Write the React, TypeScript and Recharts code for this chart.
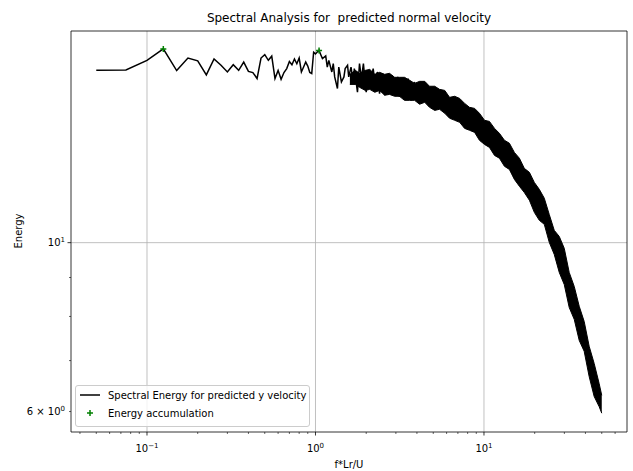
import { ComposedChart, Line, Area, Scatter, XAxis, YAxis, CartesianGrid, ReferenceArea } from 'recharts';

const FONT = '"DejaVu Sans", sans-serif';

// spectrum, resolved part (f*Lr/U, energy)
const lineFreq = [
  0.05, 0.075, 0.1, 0.125, 0.15, 0.175, 0.2, 0.225, 0.25, 0.275, 0.3, 0.325, 0.35, 0.375, 0.4,
  0.425, 0.45, 0.475, 0.5, 0.525, 0.55, 0.575, 0.6, 0.625, 0.65, 0.675, 0.7, 0.725, 0.75, 0.775,
  0.8, 0.825, 0.85, 0.875, 0.9, 0.925, 0.95, 0.975, 1.0, 1.025, 1.05, 1.075, 1.1, 1.15, 1.175,
  1.2, 1.25, 1.275, 1.3, 1.35, 1.375, 1.425, 1.475, 1.5, 1.55, 1.575, 1.625, 1.675, 1.7, 1.775,
  1.825, 1.875, 1.925, 1.95, 2.0, 2.05, 2.1, 2.2, 2.275, 2.325, 2.4, 2.475, 2.575, 2.675, 2.75,
  2.85, 2.95, 3.075, 3.15, 3.275, 3.375, 3.55, 3.7, 3.875,
];
const lineEnergy = [
  16.85, 16.86, 17.36, 17.97, 16.83, 17.48, 17.33, 16.61, 17.43, 17.1, 16.76, 17.13, 16.84, 17.27, 16.79,
  16.73, 16.43, 17.48, 17.66, 17.36, 17.58, 16.43, 16.84, 16.39, 16.73, 16.93, 17.3, 17.13, 17.43, 17.18,
  17.48, 16.76, 17.01, 17.27, 17.06, 16.73, 16.68, 17.79, 17.7, 17.8, 17.89, 17.66, 17.45, 17.59, 17.01,
  17.36, 16.76, 17.19, 16.51, 15.94, 17.01, 16.26, 16.51, 16.93, 17.1, 16.51, 17.01, 16.26, 16.93, 15.77,
  17.19, 16.43, 17.19, 16.68, 15.77, 16.59, 16.09, 16.93, 15.94, 16.76, 15.7, 16.68, 15.62, 16.51, 15.77,
  16.59, 15.62, 16.51, 15.54, 16.43, 15.46, 16.43, 15.38, 16.26,
];

// dense high-frequency part: low / high edge of the band the oscillating line fills
const bandFreq = [
  1.6, 1.725, 1.825, 1.975, 2.1, 2.25, 2.4, 2.575, 2.75, 2.95, 3.15, 3.375, 3.625, 3.875, 4.15,
  4.45, 4.75, 5.1, 5.45, 5.85, 6.25, 6.7, 7.175, 7.675, 8.2, 8.8, 9.4, 10.075, 10.775, 11.55,
  12.35, 13.225, 14.15, 15.15, 16.225, 17.35, 18.6, 19.9, 21.3, 22.8, 24.4, 26.125, 27.975, 29.95, 32.05,
  34.325, 36.75, 39.325, 42.1, 45.075, 48.25, 50,
];
const bandLow = [
  16.14, 16.14, 16.0, 15.85, 15.9, 15.76, 15.85, 15.62, 15.66, 15.57, 15.57, 15.38, 15.38, 15.38, 15.2,
  15.29, 15.06, 14.92, 14.97, 14.79, 14.57, 14.48, 14.39, 14.13, 14.05, 13.96, 13.63, 13.46, 13.34, 13.02,
  12.91, 12.6, 12.48, 12.11, 11.86, 11.64, 11.37, 10.96, 10.7, 10.57, 10.01, 9.65, 9.14, 8.81, 8.22,
  7.93, 7.44, 7.2, 6.67, 6.28, 6.09, 5.97,
];
const bandHigh = [
  16.64, 16.84, 16.69, 16.84, 16.89, 16.64, 16.74, 16.64, 16.69, 16.49, 16.49, 16.49, 16.34, 16.19, 16.29,
  16.29, 16.05, 16.05, 15.9, 15.85, 15.52, 15.57, 15.47, 15.24, 15.06, 15.01, 14.79, 14.48, 14.43, 14.13,
  13.92, 13.63, 13.51, 13.14, 12.91, 12.52, 12.37, 12.0, 11.75, 11.44, 10.89, 10.38, 10.19, 9.83, 9.14,
  8.76, 8.25, 7.88, 7.31, 6.94, 6.53, 6.3,
];

const accumFreq = [0.125, 1.05];
const accumEnergy = [17.97, 17.89];

const xTicks = [
  0.04, 0.05, 0.06, 0.07, 0.08, 0.09, 0.1, 0.2, 0.3, 0.4, 0.5, 0.6, 0.7, 0.8, 0.9,
  1, 2, 3, 4, 5, 6, 7, 8, 9, 10, 20, 30, 40, 50, 60,
];
const xTickExp: Record<string, string> = { '0.1': '−1', '1': '0', '10': '1' };
const yTicks = [6, 7, 8, 9, 10];
const yTickLabel: Record<string, [string, string]> = { '6': ['6 × 10', '0'], '10': ['10', '1'] };

const xDomain = [0.0354, 70.6];
const yDomain = [5.64, 18.97];

const lineData = lineFreq.map((f, i) => ({ f, e: lineEnergy[i] }));
const bandData = bandFreq.map((f, i) => ({ f, range: [bandLow[i], bandHigh[i]] }));
const accumData = accumFreq.map((f, i) => ({ f, e: accumEnergy[i] }));

const XTick = ({ x, y, payload }: any) => {
  const exp = xTickExp[String(payload.value)];
  const major = exp !== undefined;
  return (
    <g>
      <line x1={x} x2={x} y1={y} y2={y + (major ? 3.5 : 2)} stroke="#000" strokeWidth={major ? 0.8 : 0.6} />
      {major && (
        <text x={x} y={y + 20} textAnchor="middle" fontSize={10} fontFamily={FONT} fill="#000">
          10<tspan dy={-4.5} fontSize={7}>{exp}</tspan>
        </text>
      )}
    </g>
  );
};

const YTick = ({ x, y, payload }: any) => {
  const label = yTickLabel[String(payload.value)];
  const major = payload.value === 10;
  return (
    <g>
      <line x1={x - (major ? 3.5 : 2)} x2={x} y1={y} y2={y} stroke="#000" strokeWidth={major ? 0.8 : 0.6} />
      {label && (
        <text x={x - 6} y={y + 3.6} textAnchor="end" fontSize={10} fontFamily={FONT} fill="#000">
          {label[0]}<tspan dy={-4.5} fontSize={7}>{label[1]}</tspan>
        </text>
      )}
    </g>
  );
};

const plus = ({ cx, cy }: any) => (
  <path d={`M${cx - 3},${cy}H${cx + 3}M${cx},${cy - 3}V${cy + 3}`} stroke="#008000" strokeWidth={1.5} fill="none" />
);

export default function App() {
  return (
    <div style={{ position: 'absolute', left: 0, top: 0, width: 633, height: 471, background: '#fff' }}>
      <ComposedChart width={633} height={471} margin={{ top: 31, right: 6, bottom: 0, left: 0 }}>
        <CartesianGrid verticalValues={[0.1, 1, 10]} horizontalValues={[10]} stroke="#b0b0b0" strokeWidth={0.8} />
        <XAxis
          dataKey="f"
          type="number"
          scale="log"
          domain={xDomain}
          allowDataOverflow
          ticks={xTicks}
          interval={0}
          tick={<XTick />}
          tickLine={false}
          axisLine={false}
          tickSize={0}
          tickMargin={0}
          height={39}
        />
        <YAxis
          type="number"
          scale="log"
          domain={yDomain}
          allowDataOverflow
          ticks={yTicks}
          interval={0}
          tick={<YTick />}
          tickLine={false}
          axisLine={false}
          tickSize={0}
          tickMargin={0}
          width={71}
        />
        <Area
          data={bandData}
          dataKey="range"
          type="linear"
          stroke="#000"
          strokeWidth={1}
          fill="#000"
          fillOpacity={1}
          isAnimationActive={false}
        />
        <Line
          data={lineData}
          dataKey="e"
          type="linear"
          stroke="#000"
          strokeWidth={1.5}
          dot={false}
          isAnimationActive={false}
        />
        <Scatter data={accumData} dataKey="e" shape={plus} isAnimationActive={false} />
        <ReferenceArea
          x1={xDomain[0]}
          x2={xDomain[1]}
          y1={yDomain[0]}
          y2={yDomain[1]}
          fill="none"
          stroke="#000"
          strokeWidth={0.8}
          ifOverflow="visible"
        />
      </ComposedChart>
      <svg
        width={633}
        height={471}
        style={{ position: 'absolute', left: 0, top: 0, pointerEvents: 'none' }}
        fontFamily={FONT}
      >
        <text x={349} y={22} textAnchor="middle" fontSize={12} fill="#000" style={{ whiteSpace: 'pre' }}>
          {'Spectral Analysis for  predicted normal velocity'}
        </text>
        <text x={349} y={468} textAnchor="middle" fontSize={10} fill="#000">
          f*Lr/U
        </text>
        <text transform="translate(22,231) rotate(-90)" textAnchor="middle" fontSize={10} fill="#000">
          Energy
        </text>
        <rect x={75.5} y={385.5} width={234} height={41} rx={2.5} fill="#fff" fillOpacity={0.8} stroke="#cccccc" />
        <line x1={80} x2={100} y1={395} y2={395} stroke="#000" strokeWidth={1.5} />
        <text x={108} y={398.5} fontSize={10} fill="#000">
          Spectral Energy for predicted y velocity
        </text>
        <path d="M87,413H93M90,410V416" stroke="#008000" strokeWidth={1.5} />
        <text x={108} y={416.5} fontSize={10} fill="#000">
          Energy accumulation
        </text>
      </svg>
    </div>
  );
}
